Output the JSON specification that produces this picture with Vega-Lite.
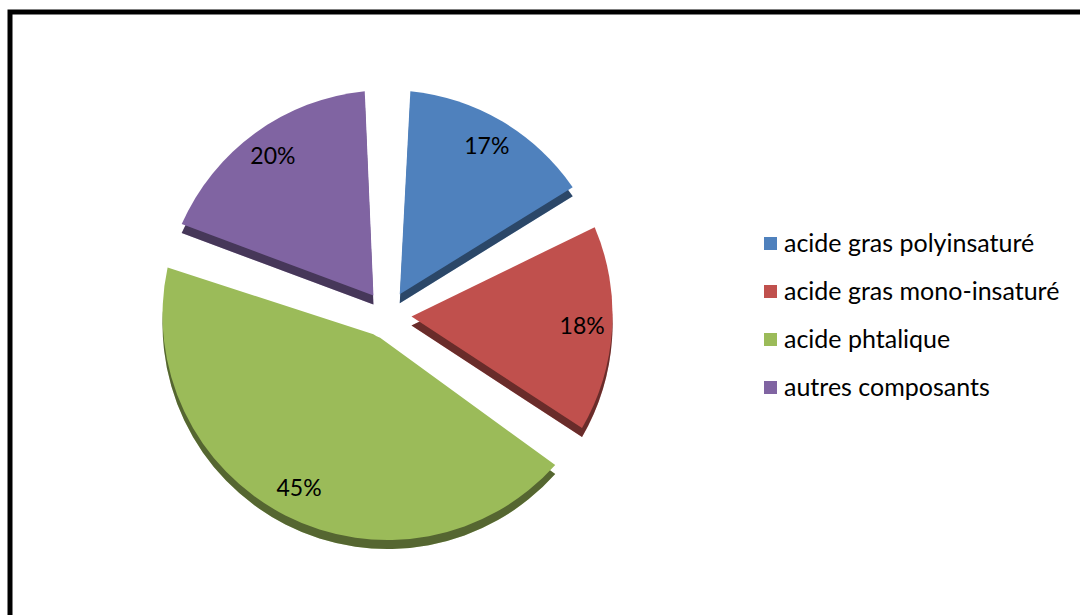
{
  "$schema": "https://vega.github.io/schema/vega-lite/v6.json",
  "autosize": {"type": "none"},
  "width": 1076,
  "height": 609,
  "padding": {"left": 10, "top": 12, "right": -6, "bottom": -6},
  "background": "white",
  "config": {
    "view": {"stroke": "black", "strokeWidth": 5},
    "font": "Lato"
  },
  "data": {
    "values": [
      {"composant": "acide gras polyinsaturé", "part": 0.17, "ordre": 1},
      {"composant": "acide gras mono-insaturé", "part": 0.18, "ordre": 2},
      {"composant": "acide phtalique", "part": 0.45, "ordre": 3},
      {"composant": "autres composants", "part": 0.20, "ordre": 4}
    ]
  },
  "encoding": {
    "theta": {"field": "part", "type": "quantitative", "stack": true},
    "order": {"field": "ordre", "type": "quantitative"},
    "x": {"datum": 0, "type": "quantitative", "scale": {"domain": [-1, 1.85], "nice": false, "zero": false}, "axis": null},
    "y": {"datum": 0, "type": "quantitative", "scale": {"domain": [-1, 0.99], "nice": false, "zero": false}, "axis": null}
  },
  "layer": [
    {
      "mark": {"type": "arc", "radius": 225, "innerRadius": 24, "padAngle": 0.202, "yOffset": 9},
      "encoding": {
        "color": {
          "field": "composant", "type": "nominal", "sort": null,
          "scale": {
            "domain": ["acide gras polyinsaturé", "acide gras mono-insaturé", "acide phtalique", "autres composants"],
            "range": ["#4f81bd", "#c0504d", "#9bbb59", "#8064a2"]
          },
          "legend": {
            "title": null,
            "orient": "none",
            "legendX": 748,
            "legendY": 219,
            "symbolType": "square",
            "symbolSize": 169,
            "symbolStrokeWidth": 0,
            "labelFontSize": 25,
            "labelFont": "Lato",
            "labelColor": "#000000",
            "labelOffset": 1,
            "rowPadding": 22,
            "labelLimit": 400
          }
        }
      }
    },
    {
      "mark": {"type": "arc", "radius": 225, "innerRadius": 24, "padAngle": 0.202, "yOffset": 9, "fill": "black", "fillOpacity": 0.45},
      "encoding": {}
    },
    {
      "mark": {"type": "arc", "radius": 225, "innerRadius": 24, "padAngle": 0.202},
      "encoding": {
        "color": {"field": "composant", "type": "nominal", "sort": null}
      }
    },
    {
      "mark": {"type": "text", "radius": 195, "fontSize": 23, "font": "Lato", "color": "#000000"},
      "encoding": {
        "text": {"field": "part", "type": "quantitative", "format": ".0%"}
      }
    }
  ]
}
